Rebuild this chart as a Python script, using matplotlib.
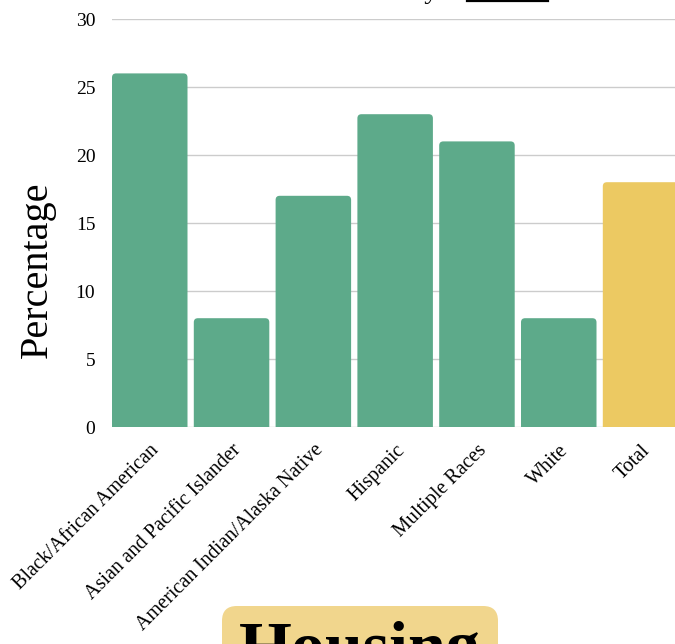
import matplotlib
matplotlib.use("Agg")
import matplotlib.pyplot as plt
from matplotlib.patches import FancyBboxPatch
from matplotlib.lines import Line2D

categories = ["Black/African American", "Asian and Pacific Islander",
              "American Indian/Alaska Native", "Hispanic", "Multiple Races",
              "White", "Total"]
values = [26, 8, 17, 23, 21, 8, 18]
yticks = [0, 5, 10, 15, 20, 25, 30]
green = "#5daa8a"
yellow = "#ecc962"
colors = [green] * 6 + [yellow]

plt.rcParams['font.family'] = ['Liberation Serif', 'DejaVu Serif']

W, H = 675, 644
fig = plt.figure(figsize=(W / 100, H / 100), dpi=100)
ax_left, ax_bottom = 112 / W, 1 - 427 / H
ax_w = 7 * 81.8 / W
ax_h = (427 - 19) / H
ax = fig.add_axes([ax_left, ax_bottom, ax_w, ax_h])

bw = 0.923
bars = ax.bar(range(len(categories)), values, width=bw, color=colors)
# replace with rounded-top bars
mut = (4 / 13.6) / (4 / 81.8)
for rect, c in zip(bars, colors):
    rect.set_visible(False)
    x, w, h = rect.get_x(), rect.get_width(), rect.get_height()
    p = FancyBboxPatch((x, -1), w, h + 1,
                       boxstyle="round,pad=0,rounding_size=0.05",
                       mutation_aspect=mut, fc=c, ec="none", zorder=3)
    ax.add_patch(p)

ax.set_xlim(-bw / 2, 7 - bw / 2)
ax.set_ylim(0, 30)
ax.set_yticks(yticks)
ax.yaxis.grid(True, color="#cccccc", linewidth=1)
ax.set_axisbelow(True)
for s in ax.spines.values():
    s.set_visible(False)
ax.tick_params(axis='y', length=0, pad=12, labelsize=14)
ax.tick_params(axis='x', length=0, pad=10, labelsize=14.5)
ax.set_xticks(range(len(categories)))
ax.set_xticklabels(categories, rotation=45, ha='right', rotation_mode='anchor')
ax.set_ylabel("Percentage", fontsize=29)
ax.yaxis.set_label_coords(-56 / (7 * 81.8), (427 - 270) / 408)

# cut-off title at top
yb = 1 + 1.5 / H
fig.text(438 / W, yb, "Cost Burden by", ha='right', va='baseline', fontsize=20)
fig.text(467 / W, yb, "Race", ha='left', va='baseline', fontsize=20)
fig.add_artist(Line2D([467 / W, 548 / W], [1 - 0.8 / H, 1 - 0.8 / H],
                      color='black', linewidth=1.6, transform=fig.transFigure))

# bottom "Housing" label box
box = FancyBboxPatch((222 / W, -20 / H), 276 / W, (644 - 606 + 20) / H,
                     boxstyle="round,pad=0,rounding_size=0.022",
                     mutation_aspect=W / H, transform=fig.transFigure,
                     fc="#f1d68d", ec="none")
fig.add_artist(box)
fig.text(360 / W, 1 - 668 / H, "Housing", ha='center', va='baseline',
         fontsize=49, fontweight='bold')

fig.savefig("out.png", dpi=100)
